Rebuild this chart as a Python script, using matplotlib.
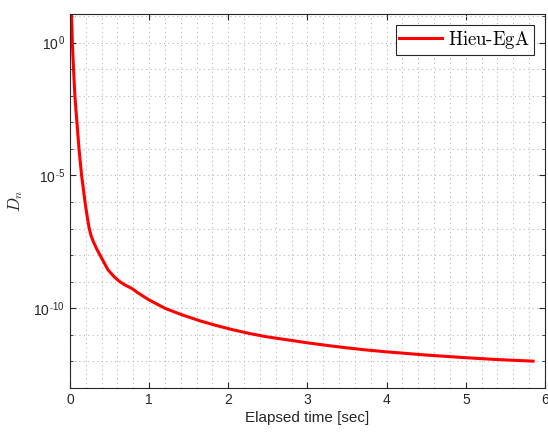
import numpy as np
import matplotlib.pyplot as plt
from matplotlib.ticker import FixedLocator, MultipleLocator, FuncFormatter

plt.rcParams['font.family'] = ['Liberation Sans', 'DejaVu Sans']
plt.rcParams['mathtext.fontset'] = 'cm'

# elapsed time [sec] and log10(D_n)
t = [0.0, 0.02, 0.03, 0.045, 0.063, 0.088, 0.114, 0.147, 0.19, 0.215, 0.24,
     0.265, 0.295, 0.335, 0.38, 0.48, 0.56, 0.63, 0.7, 0.78, 0.85, 0.99,
     1.2, 1.41, 1.64, 1.85, 2.06, 2.27, 2.48, 2.75, 3.0, 3.25, 3.5, 3.75,
     4.0, 4.5, 5.0, 5.4, 5.85]
log_dn = [1.6, 1.08, 0.0, -1.0, -2.05, -3.0, -4.0, -5.0, -6.0, -6.5, -6.95,
          -7.25, -7.49, -7.75, -8.0, -8.55, -8.82, -9.0, -9.13, -9.25, -9.4, -9.67,
          -10.0, -10.24, -10.47, -10.65, -10.81, -10.95, -11.07, -11.19, -11.3,
          -11.4, -11.49, -11.57, -11.64, -11.76, -11.86, -11.93, -11.99]
dn = 10.0 ** np.array(log_dn)

gray = '#262626'
fig = plt.figure(figsize=(5.48, 4.32), dpi=100)
ax = fig.add_axes([0.1277, 0.1019, 0.8668, 0.8657])
ax.semilogy(t, dn, color='red', lw=2.2, label=r'$\mathrm{Hieu\text{-}EgA}$')

ax.set_xlim(0, 6)
ax.set_ylim(1e-13, 10 ** 1.08)
ax.xaxis.set_major_locator(MultipleLocator(1))
ax.xaxis.set_minor_locator(MultipleLocator(0.2))
ax.yaxis.set_major_locator(FixedLocator([1e-10, 1e-5, 1e0]))
ax.yaxis.set_minor_locator(FixedLocator([10.0 ** k for k in range(-13, 2)]))
ax.yaxis.set_major_formatter(FuncFormatter(
    lambda v, p: r'$\mathregular{10}^{\mathregular{%s}}$'
    % str(round(np.log10(v))).replace('-', r'\text{-}')))
ax.yaxis.set_minor_formatter(FuncFormatter(lambda v, p: ''))

ax.grid(True, which='both', ls=(0, (1, 3)), color='#b8b8b8', lw=0.8)
ax.tick_params(which='both', direction='in', top=True, right=True,
               colors=gray, labelsize=10)
ax.tick_params(axis='x', which='minor', length=0)
ax.tick_params(axis='y', which='minor', length=2.5)
ax.tick_params(which='major', length=4)
for s in ax.spines.values():
    s.set_color(gray)
    s.set_linewidth(0.8)

ax.set_xlabel('Elapsed time [sec]', color=gray, fontsize=11, labelpad=3)
ax.set_ylabel(r'$D_n$', color=gray, fontsize=12, labelpad=6)
leg = ax.legend(loc='upper right', fontsize=13.5, fancybox=False, framealpha=1,
                edgecolor=gray, handlelength=2.25, handletextpad=0.35,
                borderpad=0.2, borderaxespad=0.6)
leg.get_frame().set_linewidth(0.8)

fig.savefig('out.png', dpi=100)
